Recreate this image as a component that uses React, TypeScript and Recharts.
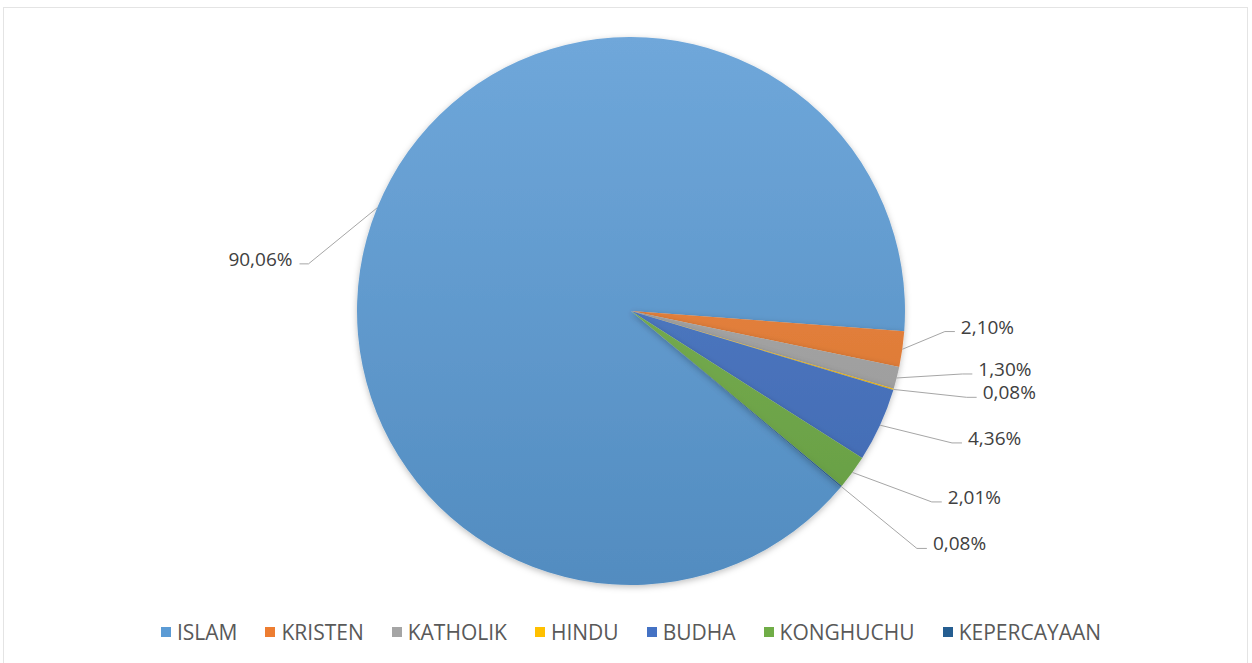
import { PieChart, Pie, Cell, Legend } from 'recharts';

const categories = ['ISLAM', 'KRISTEN', 'KATHOLIK', 'HINDU', 'BUDHA', 'KONGHUCHU', 'KEPERCAYAAN'];
const shares = [90.06, 2.1, 1.3, 0.08, 4.36, 2.01, 0.08];
const colors = ['#5B9BD5', '#ED7D31', '#A5A5A5', '#FFC000', '#4472C4', '#70AD47', '#255E91'];

// label nudges (px) from a point just outside each slice, mimicking Excel's placement
const labelNudge = [
  [-27, 73],
  [-2, -24],
  [22, -15],
  [30, -5],
  [31, -1],
  [43, 3],
  [41, 33],
];

const data = categories.map((name, i) => ({ name, value: shares[i] }));

const RAD = Math.PI / 180;
const FONT = '"Open Sans", "DejaVu Sans", sans-serif';

const fmt = (v: number) => `${v.toFixed(2).replace('.', ',')}%`;

function shade(hex: string, amt: number) {
  const n = parseInt(hex.slice(1), 16);
  const ch = [(n >> 16) & 255, (n >> 8) & 255, n & 255].map((c) =>
    Math.round(amt >= 0 ? c + (255 - c) * amt : c * (1 + amt))
  );
  return `rgb(${ch.join(',')})`;
}

const renderLabel = (props: any) => {
  const { cx, cy, midAngle, outerRadius, index, value } = props;
  const cos = Math.cos(-midAngle * RAD);
  const sin = Math.sin(-midAngle * RAD);
  const sx = cx + outerRadius * cos;
  const sy = cy + outerRadius * sin;
  const [dx, dy] = labelNudge[index] || [0, 0];
  const ex = cx + (outerRadius + 45) * cos + dx;
  const ey = cy + (outerRadius + 45) * sin + dy;
  const right = cos >= 0;
  const tx = ex + (right ? 10 : -9);
  return (
    <g>
      <path d={`M${sx},${sy}L${ex},${ey}L${tx},${ey}`} stroke="#a6a6a6" strokeWidth={1} fill="none" />
      <text
        x={tx + (right ? 6 : -7)}
        y={ey - 5}
        textAnchor={right ? 'start' : 'end'}
        dominantBaseline="central"
        fill="#404040"
        fontSize={19}
        fontFamily={FONT}
      >
        {fmt(value)}
      </text>
    </g>
  );
};

const renderLegend = () => (
  <div
    style={{
      display: 'flex',
      justifyContent: 'center',
      alignItems: 'center',
      gap: 28,
      fontFamily: FONT,
      fontSize: 21,
      color: '#595959',
      paddingLeft: 10,
    }}
  >
    {categories.map((c, i) => (
      <div key={c} style={{ display: 'flex', alignItems: 'center', gap: 6 }}>
        <span style={{ width: 10, height: 10, background: colors[i], display: 'inline-block' }} />
        <span>{c}</span>
      </div>
    ))}
  </div>
);

export default function App() {
  return (
    <div style={{ position: 'absolute', left: 0, top: 0, width: 1252, height: 663, background: '#fff', overflow: 'hidden' }}>
      <div
        style={{
          position: 'absolute',
          left: 3,
          top: 7,
          width: 1245,
          height: 665,
          border: '1px solid #e4e4e4',
          boxSizing: 'border-box',
        }}
      />
      <PieChart
        width={1252}
        height={663}
        margin={{ top: 0, right: 0, bottom: 0, left: 0 }}
        style={{ position: 'absolute', left: 0, top: 0 }}
      >
        <defs>
          {colors.map((c, i) => (
            <linearGradient key={c} id={`grad${i}`} x1="0" y1="37" x2="0" y2="585" gradientUnits="userSpaceOnUse">
              <stop offset="0%" stopColor={shade(c, 0.12)} />
              <stop offset="100%" stopColor={shade(c, -0.1)} />
            </linearGradient>
          ))}
          <filter id="pieShadow" x="-10%" y="-10%" width="120%" height="120%">
            <feDropShadow dx="0" dy="2" stdDeviation="3" floodColor="#000" floodOpacity="0.25" />
          </filter>
        </defs>
        <Pie
          data={data}
          dataKey="value"
          nameKey="name"
          cx={631}
          cy={311}
          outerRadius={274}
          startAngle={320}
          endAngle={-40}
          stroke="none"
          label={renderLabel}
          labelLine={false}
          isAnimationActive={false}
        >
          {data.map((d, i) => (
            <Cell key={d.name} fill={`url(#grad${i})`} filter="url(#pieShadow)" />
          ))}
        </Pie>
        <Legend
          content={renderLegend}
          wrapperStyle={{ position: 'absolute', top: 618, left: 0, width: 1252 }}
        />
      </PieChart>
    </div>
  );
}
